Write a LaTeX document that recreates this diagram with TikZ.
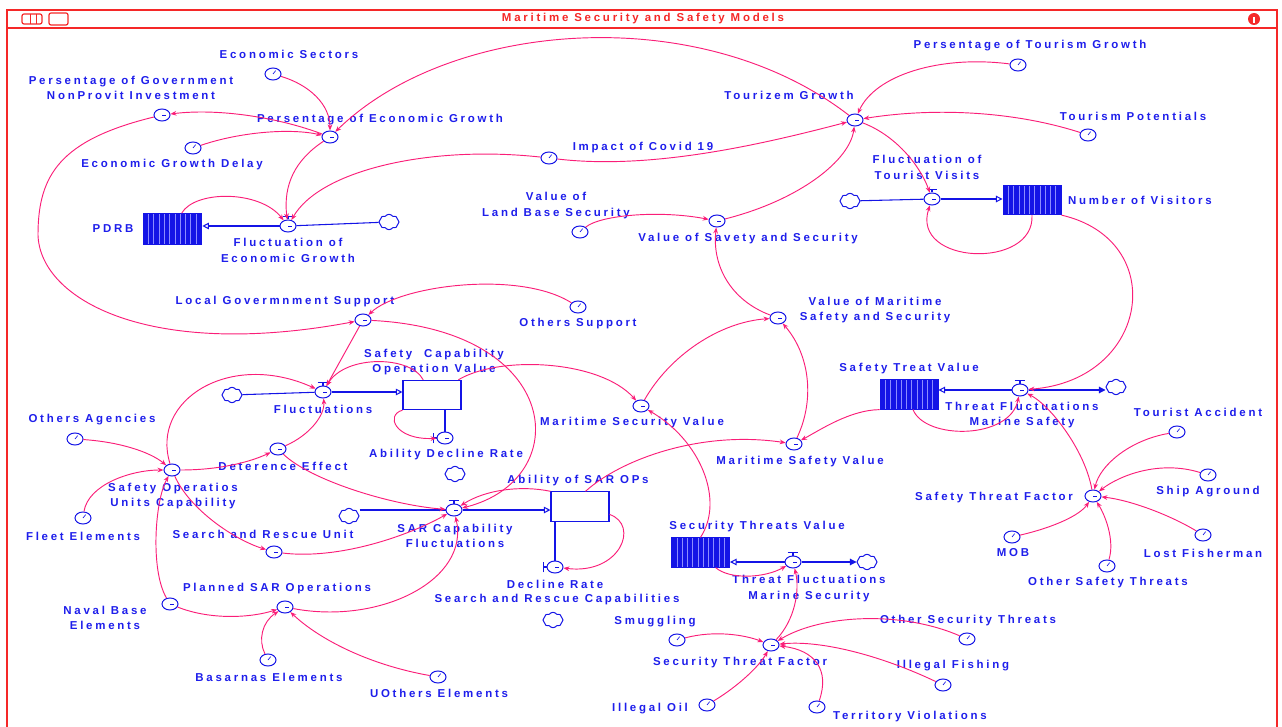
\documentclass[tikz,border=0pt]{standalone}
\usepackage{fontspec}
\newfontfamily\lblfont[LetterSpace=24]{Liberation Sans Bold}
\usetikzlibrary{arrows.meta,shapes.geometric,shapes.symbols}
\definecolor{symc}{RGB}{20,20,230}
\definecolor{txtc}{RGB}{30,30,235}
\definecolor{linkc}{RGB}{250,30,120}
\definecolor{framec}{RGB}{245,40,40}
\tikzset{
  sym/.style={draw=symc, line width=0.75pt, inner sep=0pt, fill=white},
  aux/.style={sym, ellipse, minimum width=12pt, minimum height=9pt,
    path picture={\draw[symc,line width=0.5pt] (path picture bounding box.center) -- ++(3pt,0);}},
  const/.style={sym, ellipse, minimum width=12pt, minimum height=9pt,
    path picture={\draw[symc,line width=0.5pt] (path picture bounding box.center) -- ++(2pt,2.5pt);}},
  cloudn/.style={sym, cloud, cloud puffs=8, cloud puff arc=110, aspect=1.4, minimum width=15pt, minimum height=11.5pt},
  lvlf/.style={draw=symc, fill=symc, line width=0.7pt, rectangle, minimum width=43.5pt, minimum height=22pt, inner sep=0pt,
    path picture={\foreach \i in {1,...,10}{\draw[blue!45!white, line width=0.35pt] ([xshift=\i*3.95pt]path picture bounding box.south west) -- ([xshift=\i*3.95pt]path picture bounding box.north west);}}},
  lvle/.style={draw=symc, fill=white, line width=0.8pt, rectangle, minimum width=43.5pt, minimum height=22pt, inner sep=0pt},
  lbl/.style={text=txtc, font=\lblfont\fontsize{8.6}{11.75}\selectfont, inner sep=0pt, align=center},
  link/.style={draw=linkc, line width=0.7pt, -{Stealth[length=4.5pt,width=3.5pt]}},
  pipe/.style={draw=symc, line width=0.8pt},
  lvltip/.style={-{Triangle[open,length=5pt,width=5pt]}},
  cldtip/.style={-{Triangle[length=5pt,width=5pt]}},
}
\begin{document}
\begin{tikzpicture}[x=0.75pt,y=-0.75pt]
\useasboundingbox (0,0) rectangle (1282,727);
% frame
\draw[framec, line width=1pt] (7,727) -- (7,10) -- (1277,10) -- (1277,727);
\draw[framec, line width=1pt] (7,28) -- (1277,28);
\draw[framec, line width=0.9pt, rounded corners=1.5pt] (22,14) rectangle (42,24);
\draw[framec, line width=0.7pt] (30,14) -- (30,24) (36,14) -- (36,24);
\draw[framec, line width=0.9pt, rounded corners=1.5pt] (49,13) rectangle (68,25);
\fill[framec] (1254,19) circle (6);
\draw[white, line width=0.8pt] (1254,17) -- (1254,23);
\node[lbl, text=framec] (title) at (643,19) {Maritime Security and Safety Models};

% symbols
\node[const] (es) at (273,74) {};
\node[aux] (pgni) at (162,115) {};
\node[aux] (peg) at (330,137) {};
\node[const] (egd) at (193,148) {};
\node[lvlf, minimum width=44pt, minimum height=23pt] (pdrb) at (172.5,229) {};
\node[aux] (feg) at (288,226) {};
\node[cloudn] (cfeg) at (389,222) {};
\node[const] (covid) at (549,158) {};
\node[aux] (tg) at (855,120) {};
\node[const] (ptg) at (1018,65) {};
\node[const] (tp) at (1088,135) {};
\node[aux] (ftv) at (932,199) {};
\node[cloudn] (cftv) at (850,201) {};
\node[lvlf] (nov) at (1032,200) {};
\node[const] (lbs) at (580,232) {};
\node[aux] (vss) at (717,221) {};
\node[aux] (vmss) at (778,318) {};
\node[const] (os) at (578,307) {};
\node[aux] (lgs) at (363,320) {};
\node[aux] (flu) at (323,392) {};
\node[cloudn] (cflu) at (232,395) {};
\node[lvle] (scov) at (432,395) {};
\node[aux] (adr) at (445,438) {};
\node[cloudn] (cadr) at (455,474) {};
\node[aux] (msec) at (641,406) {};
\node[aux] (msaf) at (794,444) {};
\node[lvlf] (stvs) at (909,394.5) {};
\node[aux] (tfms) at (1020,390) {};
\node[cloudn] (ctfms) at (1116,387) {};
\node[const] (ta) at (1177,432) {};
\node[const] (sa) at (1208,475) {};
\node[aux] (stf) at (1093,496) {};
\node[const] (mob) at (1012,537) {};
\node[const] (osft) at (1107,566) {};
\node[const] (lf) at (1203,535) {};
\node[const] (oa) at (75,439) {};
\node[aux] (souc) at (172,470) {};
\node[aux] (de) at (278,449) {};
\node[const] (fe) at (83,518) {};
\node[aux] (sru) at (274,552) {};
\node[cloudn] (csar) at (349,516) {};
\node[aux] (sarcf) at (454,510) {};
\node[lvle] (aoso) at (580,506.5) {};
\node[aux] (dr) at (555,567) {};
\node[cloudn] (cdr) at (553,620) {};
\node[lvlf] (stvsec) at (700.5,552.5) {};
\node[aux] (tfmsec) at (793,562) {};
\node[cloudn] (ctfmsec) at (867,562) {};
\node[aux] (pso) at (285,607) {};
\node[aux] (nbe) at (170,604) {};
\node[const] (bas) at (268,660) {};
\node[const] (uoe) at (438,677) {};
\node[const] (smg) at (677,640) {};
\node[aux] (sectf) at (771,645) {};
\node[const] (io) at (707,705) {};
\node[const] (tv) at (817,707) {};
\node[const] (osect) at (967,639) {};
\node[const] (ifi) at (943,685) {};

% valve bars
\foreach \v in {feg,ftv,flu,sarcf,tfms,tfmsec}{
  \draw[pipe] ([xshift=-4pt,yshift=2.5pt]\v.north) -- ([xshift=4pt,yshift=2.5pt]\v.north);
  \draw[pipe] ([yshift=2.5pt]\v.north) -- (\v.north);
}
\foreach \v in {adr,dr}{
  \draw[pipe] ([xshift=-2.5pt,yshift=-4pt]\v.west) -- ([xshift=-2.5pt,yshift=4pt]\v.west);
  \draw[pipe] ([xshift=-2.5pt]\v.west) -- (\v.west);
}

% labels
\node[lbl] (t-es) at (289,54) {Economic Sectors};
\node[lbl] (t-pgni) at (131,88) {Persentage of Government\\NonProvit Investment};
\node[lbl] (t-peg) at (380,120) {Persentage of Economic Growth};
\node[lbl] (t-egd) at (172,165) {Economic Growth Delay};
\node[lbl] (t-pdrb) at (113,229) {PDRB};
\node[lbl] (t-feg) at (288,250.5) {Fluctuation of\\Economic Growth};
\node[lbl] (t-covid) at (643,148) {Impact of Covid 19};
\node[lbl] (t-tg) at (789,95) {Tourizem Growth};
\node[lbl] (t-ptg) at (1030,46) {Persentage of Tourism Growth};
\node[lbl] (t-tp) at (1133,116) {Tourism Potentials};
\node[lbl] (t-ftv) at (927,167.5) {Fluctuation of\\Tourist Visits};
\node[lbl] (t-nov) at (1140,200) {Number of Visitors};
\node[lbl] (t-lbs) at (556,205.5) {Value of\\Land Base Security};
\node[lbl] (t-vss) at (748,239) {Value of Savety and Security};
\node[lbl] (t-lgs) at (285,302) {Local Govermnment Support};
\node[lbl] (t-os) at (578,324) {Others Support};
\node[lbl] (t-vmss) at (875,310) {Value of Maritime\\Safety and Security};
\node[lbl] (t-scov) at (434,362) {Safety\ \ Capability\\Operation Value};
\node[lbl] (t-flu) at (323,409) {Fluctuations};
\node[lbl] (t-msec) at (632,423) {Maritime Security Value};
\node[lbl] (t-stvs) at (909,369) {Safety Treat Value};
\node[lbl] (t-tfms) at (1022,415) {Threat Fluctuations\\Marine Safety};
\node[lbl] (t-ta) at (1198,412) {Tourist Accident};
\node[lbl] (t-oa) at (92,420) {Others Agencies};
\node[lbl] (t-adr) at (446,455) {Ability Decline Rate};
\node[lbl] (t-msaf) at (800,462) {Maritime Safety Value};
\node[lbl] (t-de) at (283,466) {Deterence Effect};
\node[lbl] (t-souc) at (173,496) {Safety Operatios\\Units Capability};
\node[lbl] (t-aoso) at (578,481) {Ability of SAR OPs};
\node[lbl] (t-stf) at (994,498) {Safety Threat Factor};
\node[lbl] (t-sa) at (1208,492) {Ship Aground};
\node[lbl] (t-fe) at (83,536) {Fleet Elements};
\node[lbl] (t-sru) at (263,534) {Search and Rescue Unit};
\node[lbl] (t-sarcf) at (455,536) {SAR Capability\\Fluctuations};
\node[lbl] (t-stvsec) at (757,527) {Security Threats Value};
\node[lbl] (t-mob) at (1013,553) {MOB};
\node[lbl] (t-lf) at (1203,553) {Lost Fisherman};
\node[lbl] (t-dr) at (555,584) {Decline Rate};
\node[lbl] (t-tfmsec) at (809,588.5) {Threat Fluctuations\\Marine Security};
\node[lbl] (t-osft) at (1108,583) {Other Safety Threats};
\node[lbl] (t-sarc) at (557,600) {Search and Rescue Capabilities};
\node[lbl] (t-pso) at (277,589) {Planned SAR Operations};
\node[lbl] (t-nbe) at (105,618) {Naval Base\\Elements};
\node[lbl] (t-smg) at (655,622) {Smuggling};
\node[lbl] (t-osect) at (968,621) {Other Security Threats};
\node[lbl] (t-sectf) at (740,663) {Security Threat Factor};
\node[lbl] (t-ifi) at (953,666) {Illegal Fishing};
\node[lbl] (t-bas) at (269,677) {Basarnas Elements};
\node[lbl] (t-uoe) at (439,693) {UOthers Elements};
\node[lbl] (t-io) at (650,709) {Illegal Oil};
\node[lbl] (t-tv) at (910,717) {Territory Violations};

% pipes
\draw[pipe] (cfeg) -- (feg);
\draw[pipe,lvltip] (feg) -- (pdrb.east |- feg);
\draw[pipe] (cftv) -- (ftv);
\draw[pipe,lvltip] (ftv) -- (nov.west |- ftv);
\draw[pipe] (cflu) -- (flu);
\draw[pipe,lvltip] (flu) -- (scov.west |- flu);
\draw[pipe] (csar.east |- sarcf) -- (sarcf);
\draw[pipe,lvltip] (sarcf) -- (aoso.west |- sarcf);
\draw[pipe,lvltip] (tfms) -- (stvs.east |- tfms);
\draw[pipe,cldtip] (tfms) -- (ctfms.west |- tfms);
\draw[pipe,lvltip] (tfmsec) -- (stvsec.east |- tfmsec);
\draw[pipe,cldtip] (tfmsec) -- (ctfmsec);
\draw[pipe] (scov.south -| adr) -- (adr);
\draw[pipe] (aoso.south -| dr) -- (dr);

% links
\draw[link] (peg) .. controls (280,118) and (220,108) .. (pgni);
\draw[link] (egd) .. controls (240,132) and (290,128) .. (peg);
\draw[link] (es) .. controls (310,85) and (330,105) .. (peg);
\draw[link] (tg) .. controls (700,0) and (450,20) .. (peg);
\draw[link] (covid) .. controls (430,145) and (320,170) .. (feg);
\draw[link] (covid) .. controls (650,170) and (760,145) .. (tg);
\draw[link] (peg) .. controls (295,160) and (283,185) .. (feg);
\draw[link] (pdrb.60) .. controls (195,190) and (260,190) .. (feg);
\draw[link] (ptg) .. controls (940,55) and (875,75) .. (tg);
\draw[link] (tp) .. controls (1010,110) and (930,108) .. (tg);
\draw[link] (tg) .. controls (895,135) and (920,165) .. (ftv);
\draw[link] (vss) .. controls (800,200) and (850,160) .. (tg);
\draw[link] (lbs) .. controls (600,215) and (660,210) .. (vss);
\draw[link] (nov.south) .. controls (1035,270) and (910,265) .. (ftv);
\draw[link] (nov.south east) .. controls (1170,240) and (1150,380) .. (tfms);
\draw[link] (vmss) .. controls (730,300) and (712,265) .. (vss);
\draw[link] (msec) .. controls (670,355) and (720,322) .. (vmss);
\draw[link] (msaf) .. controls (815,400) and (810,355) .. (vmss);
\draw[link] (stvs.south west) .. controls (850,410) and (820,430) .. (msaf);
\draw[link] (aoso.70) .. controls (620,460) and (700,430) .. (msaf);
\draw[link] (scov.30) .. controls (500,355) and (600,360) .. (msec);
\draw[link] (stvsec.north) .. controls (725,500) and (700,440) .. (msec);
\draw[link] (lgs) -- (flu);
\draw[link] (os) .. controls (520,270) and (400,285) .. (lgs);
\draw[link] (lgs) .. controls (565,330) and (575,480) .. (sarcf);
\draw[link] (scov.120) .. controls (410,355) and (345,355) .. (flu);
\draw[link] (scov.south west) .. controls (385,415) and (395,440) .. (adr);
\draw[link] (souc) .. controls (150,400) and (230,350) .. (flu);
\draw[link] (souc) .. controls (220,470) and (250,462) .. (de);
\draw[link] (de) .. controls (310,435) and (325,415) .. (flu);
\draw[link] (de) .. controls (310,480) and (390,505) .. (sarcf);
\draw[link] (oa) .. controls (120,442) and (150,452) .. (souc);
\draw[link] (fe) .. controls (88,485) and (130,470) .. (souc);
\draw[link] (nbe) .. controls (150,570) and (155,500) .. (souc);
\draw[link] (souc) .. controls (190,510) and (235,540) .. (sru);
\draw[link] (sru) .. controls (340,560) and (410,535) .. (sarcf);
\draw[link] (pso) .. controls (380,625) and (470,580) .. (sarcf);
\draw[link] (nbe) .. controls (210,620) and (250,618) .. (pso);
\draw[link] (bas) .. controls (258,640) and (262,622) .. (pso);
\draw[link] (uoe) .. controls (370,665) and (320,640) .. (pso);
\draw[link] (aoso.north west) .. controls (520,485) and (485,490) .. (sarcf);
\draw[link] (aoso.-15) .. controls (640,525) and (620,575) .. (dr);
\draw[link] (stvsec.-45) .. controls (730,580) and (765,578) .. (tfmsec);
\draw[link] (sectf) .. controls (795,620) and (800,590) .. (tfmsec);
\draw[link] (smg) .. controls (715,630) and (745,635) .. (sectf);
\draw[link] (osect) .. controls (900,610) and (820,615) .. (sectf);
\draw[link] (ifi) .. controls (880,655) and (820,640) .. (sectf);
\draw[link] (io) .. controls (740,685) and (760,665) .. (sectf);
\draw[link] (tv) .. controls (830,670) and (815,650) .. (sectf);
\draw[link] (stvs.-75) .. controls (925,440) and (1010,440) .. (tfms);
\draw[link] (stf) .. controls (1085,450) and (1050,405) .. (tfms);
\draw[link] (ta) .. controls (1130,440) and (1100,465) .. (stf);
\draw[link] (sa) .. controls (1160,460) and (1120,475) .. (stf);
\draw[link] (lf) .. controls (1170,515) and (1130,500) .. (stf);
\draw[link] (osft) .. controls (1115,540) and (1105,515) .. (stf);
\draw[link] (mob) .. controls (1055,527) and (1080,515) .. (stf);
\draw[link] (pgni) .. controls (60,140) and (38,175) .. (38,235) .. controls (40,300) and (150,360) .. (lgs);
\end{tikzpicture}
\end{document}
